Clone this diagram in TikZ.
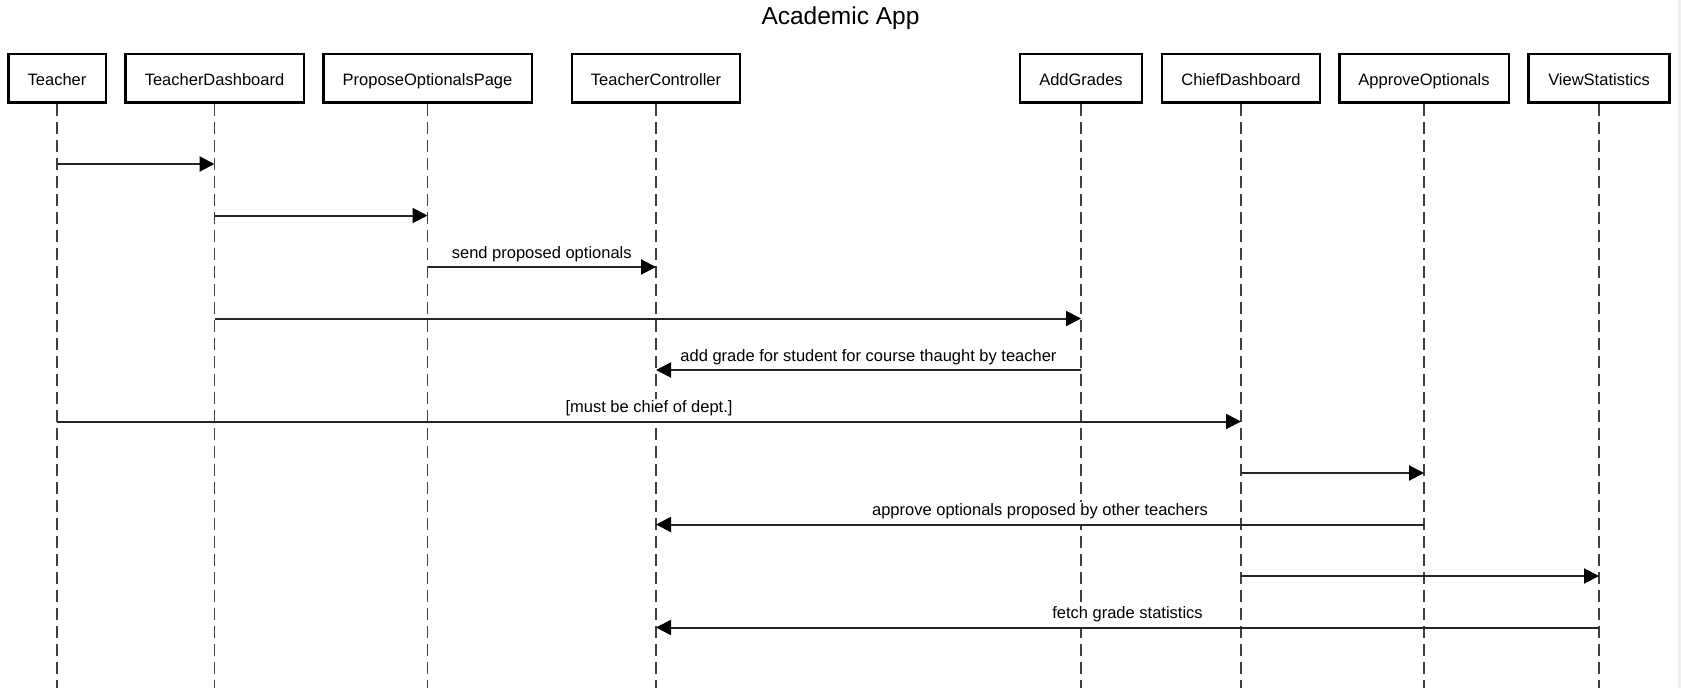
\documentclass[tikz,border=0pt]{standalone}
\usepackage{fontspec}
\setmainfont{Liberation Sans}
\usetikzlibrary{arrows.meta}
\begin{document}
\begin{tikzpicture}[x=1pt,y=-1pt,
  actor/.style={draw,line width=2.5pt,minimum height=48.8pt,inner sep=0pt,
    text height=15pt,text depth=0pt,font=\fontsize{16.5}{18}\selectfont},
  lifeline/.style={line width=1.5pt,draw=black!75,dash pattern=on 12pt off 6pt},
  msg/.style={line width=2pt,draw=black!85,-{Triangle[length=15pt,width=15pt,color=black]}},
  lbl/.style={midway,behind path,anchor=base,yshift=9pt,inner xsep=1pt,inner ysep=0.5pt,text height=13pt,text depth=8pt,
    fill=white,font=\fontsize{16.5}{18}\selectfont},
  ttl/.style={anchor=base,inner sep=0pt,font=\fontsize{24.5}{28}\selectfont}]
\useasboundingbox (0,0) rectangle (1681,688);
\fill[black!6] (1678,0) rectangle (1681,688);

\node[ttl] (title) at (840.5,24) {Academic App};

\node[actor,minimum width=97.5pt]  (t)   at (57,78.3)     {Teacher};
\node[actor,minimum width=178.5pt] (td)  at (214.5,78.3)  {TeacherDashboard};
\node[actor,minimum width=208.5pt] (pop) at (427.5,78.3)  {ProposeOptionalsPage};
\node[actor,minimum width=168pt]   (tc)  at (656,78.3)    {TeacherController};
\node[actor,minimum width=122pt]   (ag)  at (1081,78.3)   {AddGrades};
\node[actor,minimum width=158pt]   (cd)  at (1241,78.3)   {ChiefDashboard};
\node[actor,minimum width=169.5pt] (ao)  at (1424,78.3)   {ApproveOptionals};
\node[actor,minimum width=141pt]   (vs)  at (1599,78.3)   {ViewStatistics};

\foreach \n in {t,td,pop,tc,ag,cd,ao,vs}{
  \coordinate (\n-end) at (\n |- 0,688);
  \draw[lifeline] (\n.south) -- (\n-end);
}

\draw[msg] (t |- 0,164)    -- (td |- 0,164);
\draw[msg] (td |- 0,215.5) -- (pop |- 0,215.5);
\draw[msg] (pop |- 0,267)  -- node[lbl] {send proposed optionals} (tc |- 0,267);
\draw[msg] (td |- 0,318.5) -- (ag |- 0,318.5);
\draw[msg] (ag |- 0,370)   -- node[lbl] {add grade for student for course thaught by teacher} (tc |- 0,370);
\draw[msg] (t |- 0,421.5)  -- node[lbl] {[must be chief of dept.]} (cd |- 0,421.5);
\draw[msg] (cd |- 0,473)   -- (ao |- 0,473);
\draw[msg] (ao |- 0,524.5) -- node[lbl] {approve optionals proposed by other teachers} (tc |- 0,524.5);
\draw[msg] (cd |- 0,576)   -- (vs |- 0,576);
\draw[msg] (vs |- 0,627.5) -- node[lbl] {fetch grade statistics} (tc |- 0,627.5);
\end{tikzpicture}
\end{document}
